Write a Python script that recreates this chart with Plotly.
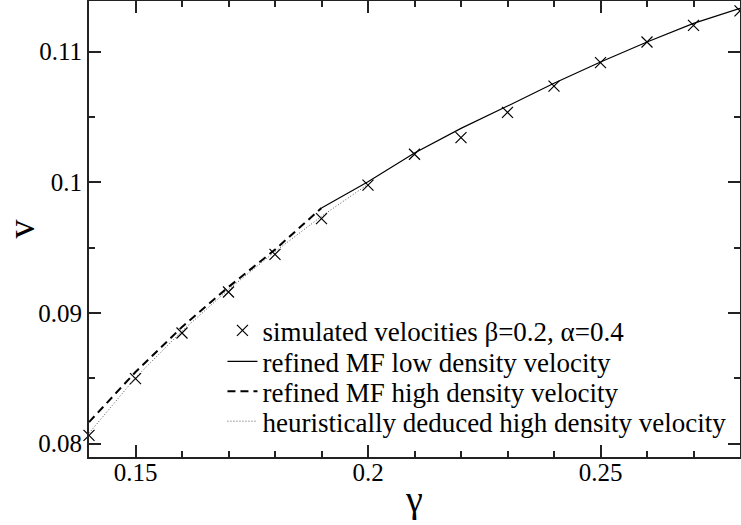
import plotly.graph_objects as go

# simulated velocities
gamma_sim = [0.14, 0.15, 0.16, 0.17, 0.18, 0.19, 0.20, 0.21, 0.22, 0.23, 0.24, 0.25, 0.26, 0.27, 0.28]
v_sim = [0.08064, 0.08498, 0.08847, 0.09161, 0.09449, 0.09723, 0.09979, 0.10215, 0.10342, 0.10536,
         0.10737, 0.10916, 0.11074, 0.11202, 0.11312]

# refined MF low density velocity
gamma_low = [0.19, 0.20, 0.21, 0.22, 0.23, 0.24, 0.25, 0.26, 0.27, 0.28]
v_low = [0.09804, 0.10005, 0.10225, 0.10413, 0.10584, 0.10758, 0.10921, 0.11074, 0.11217, 0.11332]

# refined MF high density velocity
gamma_high = [0.14, 0.15, 0.16, 0.17, 0.18, 0.19]
v_high = [0.08165, 0.08548, 0.08893, 0.09199, 0.09485, 0.09804]

# heuristically deduced high density velocity
gamma_heur = [0.14, 0.15, 0.16, 0.17, 0.18, 0.19, 0.20]
v_heur = [0.08080, 0.08505, 0.08862, 0.09180, 0.09470, 0.09740, 0.09985]

FONT = "Liberation Serif"

fig = go.Figure()
fig.add_trace(go.Scatter(
    x=gamma_sim, y=v_sim, mode="markers", legend="legend", cliponaxis=False,
    name="simulated velocities \u03b2=0.2, \u03b1=0.4",
    marker=dict(symbol="x-thin", size=11, line=dict(width=1.2, color="black"), color="black"),
))
fig.add_trace(go.Scatter(
    x=gamma_low, y=v_low, mode="lines", legend="legend2",
    name="refined MF low density velocity",
    line=dict(color="black", width=1.2),
))
fig.add_trace(go.Scatter(
    x=gamma_high, y=v_high, mode="lines", legend="legend3",
    name="refined MF high density velocity",
    line=dict(color="black", width=2, dash="8px,5px"),
))
fig.add_trace(go.Scatter(
    x=gamma_heur, y=v_heur, mode="lines", legend="legend4",
    name="heuristically deduced high density velocity",
    line=dict(color="#555555", width=1, dash="1px,2px"),
))

axis_common = dict(
    showgrid=False, zeroline=False, automargin=False,
    showline=True, linecolor="#222222", linewidth=2, mirror="allticks",
    ticks="inside", tickcolor="#222222", tickwidth=1.5,
    tickfont=dict(family=FONT, size=25, color="black"),
)


def leg(ytop):
    return dict(
        x=0.205, y=ytop, xanchor="left", yanchor="top",
        bgcolor="rgba(0,0,0,0)", borderwidth=0,
        font=dict(family=FONT, size=27, color="black"),
        itemwidth=30,
    )


fig.update_layout(
    width=741, height=525,
    margin=dict(l=89, r=1, t=1, b=68),
    paper_bgcolor="white", plot_bgcolor="white",
    font=dict(family=FONT, color="black"),
    showlegend=True,
    legend=leg(0.3304),
    legend2=leg(0.2626),
    legend3=leg(0.1969),
    legend4=leg(0.1313),
)

fig.update_xaxes(
    **axis_common,
    range=[0.14, 0.28], dtick=0.05, tick0=0.0, ticklen=12,
    ticklabelstandoff=-8,
    minor=dict(dtick=0.01, ticks="inside", ticklen=6, tickcolor="#222222", tickwidth=1.5),
    title=dict(text="\u03b3", font=dict(family=FONT, size=38, color="black"), standoff=0),
)
fig.update_yaxes(
    **axis_common,
    range=[0.07898, 0.11388], dtick=0.01, tick0=0.0, ticklen=12,
    minor=dict(dtick=0.005, ticks="inside", ticklen=6, tickcolor="#222222", tickwidth=1.5),
    title=dict(text="v", font=dict(family=FONT, size=38, color="black"), standoff=18),
)

fig.write_html("out.html")
